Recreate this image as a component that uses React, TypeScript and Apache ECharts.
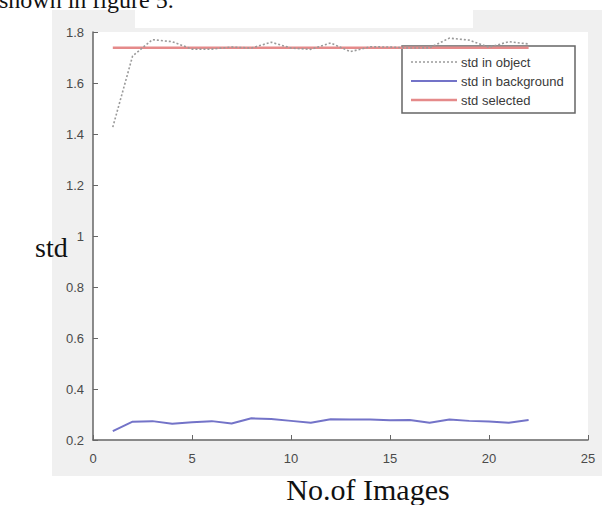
import React, { useEffect, useRef } from "react";
import * as echarts from "echarts";

const imageNo = [1, 2, 3, 4, 5, 6, 7, 8, 9, 10, 11, 12, 13, 14, 15, 16, 17, 18, 19, 20, 21, 22];
const stdObject = [1.427, 1.706, 1.77, 1.762, 1.733, 1.733, 1.741, 1.737, 1.76, 1.737, 1.732, 1.757, 1.723, 1.742, 1.741, 1.737, 1.738, 1.776, 1.768, 1.74, 1.762, 1.753];
const stdBackground = [0.235, 0.272, 0.274, 0.264, 0.27, 0.274, 0.265, 0.285, 0.282, 0.275, 0.268, 0.281, 0.28, 0.28, 0.277, 0.278, 0.268, 0.28, 0.275, 0.273, 0.268, 0.278];
const stdSelected = [1.738, 1.738, 1.738, 1.738, 1.738, 1.738, 1.738, 1.738, 1.738, 1.738, 1.738, 1.738, 1.738, 1.738, 1.738, 1.738, 1.738, 1.738, 1.738, 1.738, 1.738, 1.738];
const seriesNames = ["std in object", "std in background", "std selected"];

const colObject = "#9a9a9a";
const colBackground = "#7373c8";
const colSelected = "#e58a8a";

export default function App() {
  const ref = useRef<HTMLDivElement>(null);
  useEffect(() => {
    if (!ref.current) return;
    const chart = echarts.init(ref.current, null, { renderer: "svg" });
    const pair = (ys: number[]) => imageNo.map((x, i) => [x, ys[i]]);
    const legendX = 402, legendY = 46, legendW = 173, legendH = 67;
    const rowY = [62, 81, 100];
    const legendStyles = [
      { stroke: colObject, lineWidth: 1.6, lineDash: [2, 2] },
      { stroke: colBackground, lineWidth: 2 },
      { stroke: colSelected, lineWidth: 2.5 },
    ];
    const legendChildren: any[] = [
      { type: "rect", shape: { x: legendX, y: legendY, width: legendW, height: legendH }, style: { fill: "#ffffff", stroke: "#666", lineWidth: 1.5 } },
    ];
    seriesNames.forEach((n, i) => {
      legendChildren.push({ type: "line", shape: { x1: 411, y1: rowY[i], x2: 457, y2: rowY[i] }, style: legendStyles[i] });
      legendChildren.push({ type: "text", x: 461, y: rowY[i], style: { text: n, font: "13px 'Liberation Sans'", fill: "#3a3a3a", textVerticalAlign: "middle" } });
    });
    chart.setOption({
      animation: false,
      backgroundColor: "#ffffff",
      graphic: [
        { type: "rect", z: -10, silent: true, shape: { x: 52, y: 10, width: 550, height: 466 }, style: { fill: "#f0f0f0" } },
        { type: "rect", z: -9, silent: true, shape: { x: 135, y: 10, width: 338, height: 18 }, style: { fill: "#ffffff" } },
        { type: "rect", z: -8, silent: true, shape: { x: 93, y: 32, width: 495, height: 408 }, style: { fill: "#ffffff" } },
        { type: "text", x: -1, y: 12, style: { text: "shown in figure 5.", font: "24px 'Liberation Serif'", fill: "#111", textVerticalAlign: "bottom" } },
        { type: "text", x: 35, y: 247, style: { text: "std", font: "28px 'Liberation Serif'", fill: "#111", textVerticalAlign: "middle" } },
        { type: "text", x: 368, y: 489, style: { text: "No.of Images", font: "30px 'Liberation Serif'", fill: "#111", textAlign: "center", textVerticalAlign: "middle" } },
        { type: "group", z: 100, children: legendChildren },
      ],
      grid: { left: 93, right: 14, top: 32, bottom: 65 },
      xAxis: {
        type: "value",
        min: 0,
        max: 25,
        interval: 5,
        axisLine: { show: true, lineStyle: { color: "#666", width: 1.5 } },
        axisTick: { show: true, inside: true, length: 5, lineStyle: { color: "#666" } },
        axisLabel: { color: "#4a4a4a", fontSize: 13, fontFamily: "Liberation Sans", margin: 12 },
        splitLine: { show: false },
      },
      yAxis: {
        type: "value",
        min: 0.2,
        max: 1.8,
        interval: 0.2,
        axisLine: { show: true, lineStyle: { color: "#666", width: 1.5 } },
        axisTick: { show: true, inside: true, length: 5, lineStyle: { color: "#666" } },
        axisLabel: { color: "#4a4a4a", fontSize: 13, fontFamily: "Liberation Sans", margin: 9, formatter: (v: number) => String(Math.round(v * 10) / 10) },
        splitLine: { show: false },
      },
      series: [
        {
          name: seriesNames[0],
          type: "line",
          data: pair(stdObject),
          symbol: "none",
          color: colObject,
          lineStyle: { color: colObject, width: 1.6, type: [2, 2] },
          z: 3,
        },
        {
          name: seriesNames[1],
          type: "line",
          data: pair(stdBackground),
          symbol: "none",
          color: colBackground,
          lineStyle: { color: colBackground, width: 2 },
        },
        {
          name: seriesNames[2],
          type: "line",
          data: pair(stdSelected),
          symbol: "none",
          color: colSelected,
          lineStyle: { color: colSelected, width: 2.5 },
          z: 2,
        },
      ],
    });
    return () => chart.dispose();
  }, []);
  return <div ref={ref} style={{ position: "fixed", left: 0, top: 0, width: 602, height: 505 }} />;
}
